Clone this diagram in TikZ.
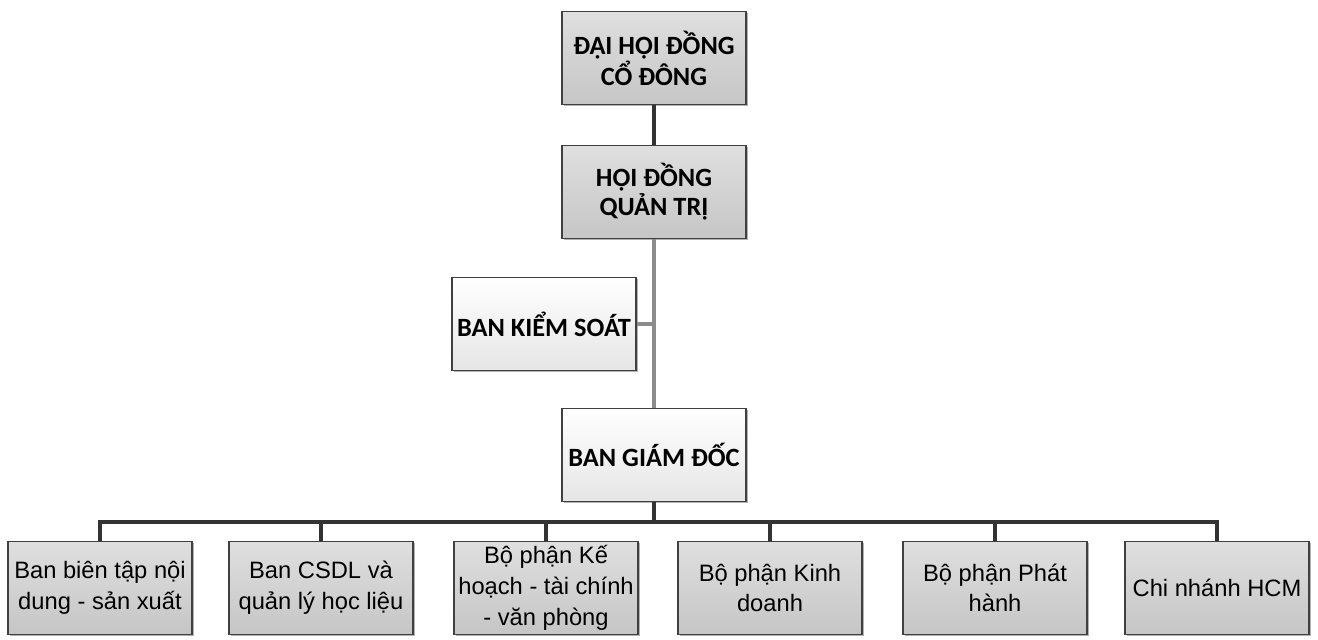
\documentclass[tikz,border=0pt]{standalone}
\usepackage{fontspec}
\setmainfont{Liberation Sans}
\newfontfamily\headfont{Carlito}
\usepackage{xcolor}
\usepackage{tikz}
\usetikzlibrary{shadows}

\definecolor{linedark}{HTML}{333333}
\definecolor{linegray}{HTML}{8C8C8C}
\tikzset{
	box/.style={draw=black!75, line width=0.9pt, minimum width=3.68cm, minimum height=1.86cm, inner sep=0pt, align=center,
		drop shadow={shadow xshift=1pt, shadow yshift=-1pt, fill=black!60, opacity=0.5}},
	headbox/.style={box, top color=gray!25, bottom color=gray!45, font=\headfont\bfseries\fontsize{15}{16.5}\selectfont},
	lightbox/.style={box, top color=white, bottom color=gray!20, font=\headfont\bfseries\fontsize{15}{16.5}\selectfont},
	unitbox/.style={box, top color=gray!25, bottom color=gray!45, font=\fontsize{13.5}{17.5}\selectfont},
	link/.style={line width=2.2pt, color=linedark},
	linklight/.style={line width=2.2pt, color=linegray}
}

\begin{document}
\begin{tikzpicture}[x=0.02cm, y=-0.02cm]
		\useasboundingbox (0,0) rectangle (1318,639);
		\node[headbox] (dhcd) at (654,58) {ĐẠI HỘI ĐỒNG\\CỔ ĐÔNG};
		\node[headbox] (hdqt) at (654,192) {HỘI ĐỒNG\\QUẢN TRỊ};
		\node[lightbox] (bks) at (544,324) {BAN KIỂM SOÁT};
		\node[lightbox] (bgd) at (654,455) {BAN GIÁM ĐỐC};
		\node[unitbox] (bbt) at (100,588) {Ban biên tập nội\\dung - sản xuất};
		\node[unitbox] (csdl) at (321,588) {Ban CSDL và\\quản lý học liệu};
		\node[unitbox] (khtc) at (546,588) {Bộ phận Kế\\hoạch - tài chính\\- văn phòng};
		\node[unitbox] (kd) at (770,588) {Bộ phận Kinh\\doanh};
		\node[unitbox] (ph) at (995,588) {Bộ phận Phát\\hành};
		\node[unitbox] (hcm) at (1217,588) {Chi nhánh HCM};
		\coordinate (bus) at (654,522);
		\draw[link] (dhcd.south) -- (hdqt.north);
		\draw[linklight] (hdqt.south) -- (bgd.north);
		\draw[linklight] (bks.east) -- (bks.east -| hdqt.south);
		\draw[link] (bgd.south) -- (bus);
		\draw[link, line cap=rect] (bbt.north |- bus) -- (hcm.north |- bus);
		\foreach \u in {bbt,csdl,khtc,kd,ph,hcm}
			\draw[link] (\u.north) -- (\u.north |- bus);
		\end{tikzpicture}
\end{document}
